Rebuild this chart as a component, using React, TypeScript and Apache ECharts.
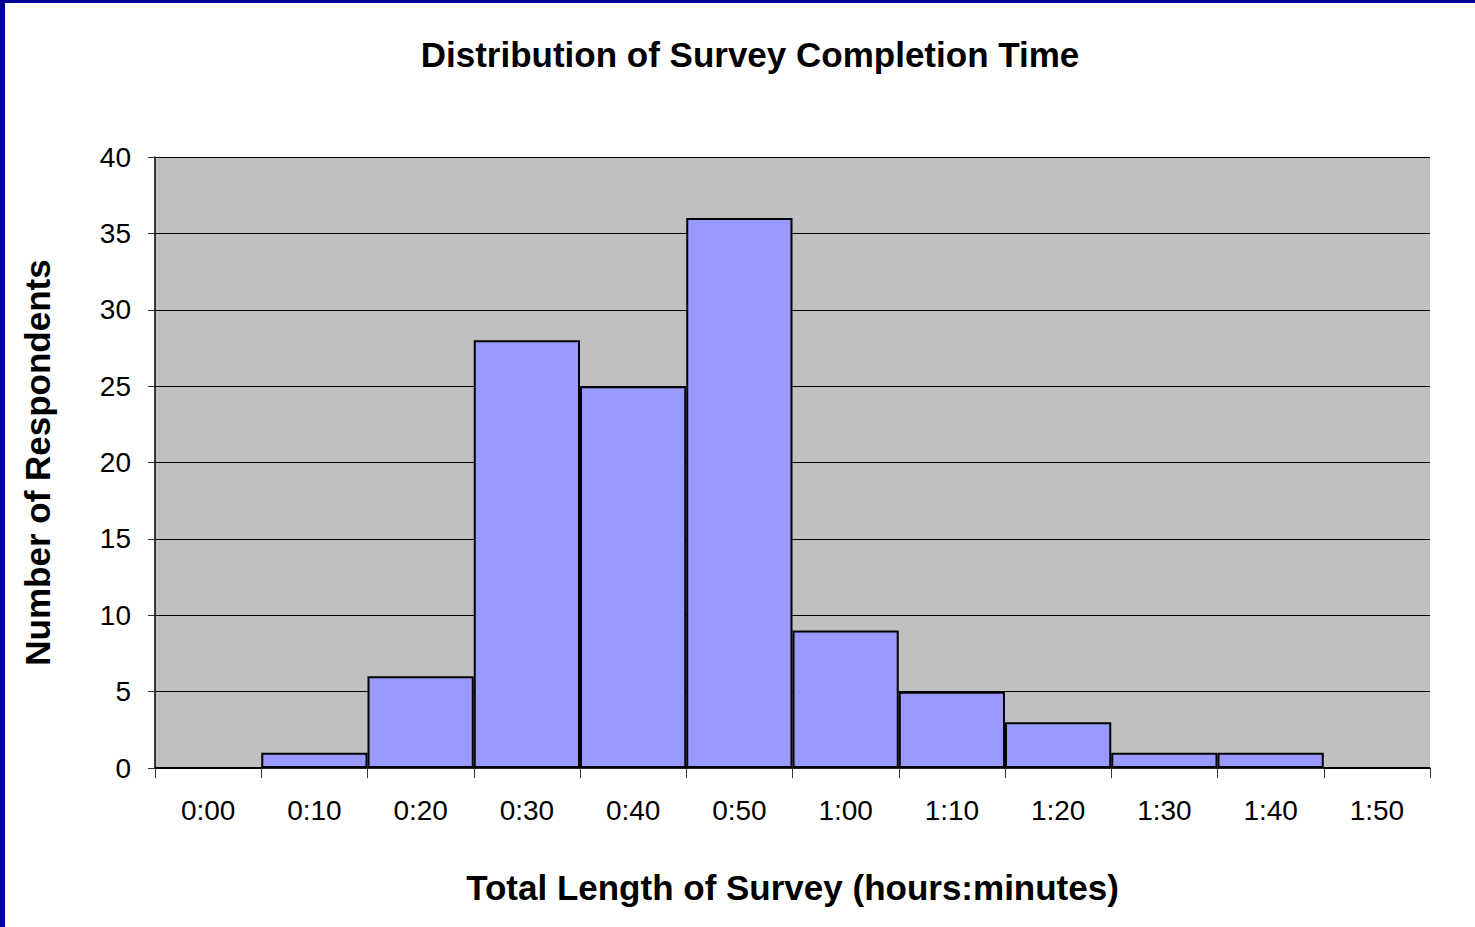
import React, { useEffect, useRef } from "react";
import * as echarts from "echarts";

const categories = ["0:00", "0:10", "0:20", "0:30", "0:40", "0:50", "1:00", "1:10", "1:20", "1:30", "1:40", "1:50"];
const respondents = [0, 1, 6, 28, 25, 36, 9, 5, 3, 1, 1, 0];

export default function App() {
  const ref = useRef<HTMLDivElement>(null);
  useEffect(() => {
    document.body.style.margin = "0";
    const chart = echarts.init(ref.current!, null, { renderer: "svg" });
    const font = "'Liberation Sans', Arial, sans-serif";
    chart.setOption({
      animation: false,
      backgroundColor: "#ffffff",
      textStyle: { fontFamily: font },
      title: {
        text: "Distribution of Survey Completion Time",
        left: 745,
        textAlign: "center",
        top: 32,
        textStyle: { fontFamily: font, fontSize: 35, fontWeight: "bold", color: "#000" },
      },
      graphic: [
        { type: "rect", shape: { x: 0, y: 0, width: 1475, height: 3 }, style: { fill: "#000099" } },
        { type: "rect", shape: { x: 0, y: 0, width: 5, height: 927 }, style: { fill: "#000099" } },
      ],
      grid: {
        left: 155,
        top: 157,
        width: 1275,
        height: 611,
        show: true,
        backgroundColor: "#C0C0C0",
        borderWidth: 0,
      },
      xAxis: {
        type: "category",
        data: categories,
        boundaryGap: true,
        name: "Total Length of Survey (hours:minutes)",
        nameLocation: "middle",
        nameGap: 102,
        nameTextStyle: { fontFamily: font, fontSize: 35, fontWeight: "bold", color: "#000" },
        axisLine: { show: true, lineStyle: { color: "#333", width: 1.5 } },
        axisTick: { show: true, length: 10, lineStyle: { color: "#333" } },
        axisLabel: { fontFamily: font, fontSize: 28, color: "#000", margin: 28, interval: 0 },
        splitLine: { show: false },
      },
      yAxis: {
        type: "value",
        min: 0,
        max: 40,
        interval: 5,
        name: "Number of Respondents",
        nameLocation: "middle",
        nameGap: 100,
        nameRotate: 90,
        nameTextStyle: { fontFamily: font, fontSize: 35, fontWeight: "bold", color: "#000" },
        axisLine: { show: true, lineStyle: { color: "#000", width: 1.5 } },
        axisTick: { show: true, length: 7, lineStyle: { color: "#333" } },
        axisLabel: { fontFamily: font, fontSize: 28, color: "#000", margin: 24 },
        splitLine: { show: true, lineStyle: { color: "#000", width: 1 } },
      },
      series: [
        {
          type: "bar",
          data: respondents,
          barWidth: "100%",
          barGap: "0%",
          barCategoryGap: "0%",
          itemStyle: { color: "#9999FF", borderColor: "#000", borderWidth: 2 },
        },
      ],
    });
    return () => chart.dispose();
  }, []);
  return <div ref={ref} style={{ width: 1475, height: 927 }} />;
}
